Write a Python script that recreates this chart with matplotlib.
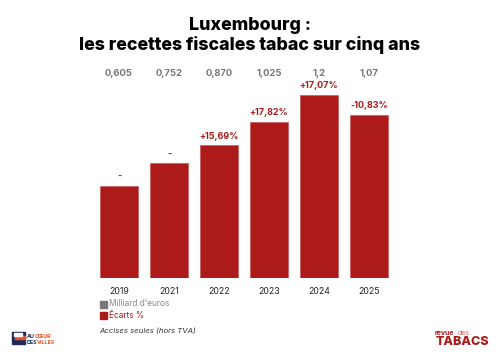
import matplotlib.pyplot as plt
import numpy as np

years = ['2019', '2021', '2022', '2023', '2024', '2025']
values = [0.605, 0.752, 0.870, 1.025, 1.2, 1.07]
value_labels = ['0,605', '0,752', '0,870', '1,025', '1,2', '1,07']
pct_labels = ['-', '-', '+15,69%', '+17,82%', '+17,07%', '-10,83%']

red = '#ac1a1a'
grey = '#7a7676'
navy = '#1e2a5a'
orange = '#e8542a'
font = 'Inter'

fig = plt.figure(figsize=(5, 3.57), dpi=100)
# axes placed so that bars start at y=278px and x positions match
ax = fig.add_axes([94 / 500, 79 / 357, 300 / 500, 213.5 / 357])
x = np.arange(len(years))
ax.bar(x, values, width=0.76, color=red, edgecolor='#c44a4a', linewidth=0.4)
ax.set_xlim(-0.5, 5.5)
ax.set_ylim(0, 1.4)
ax.axis('off')

for i in range(len(years)):
    ax.annotate(pct_labels[i], (x[i], values[i]), xytext=(0, 6.5),
                textcoords='offset points', ha='center', va='center',
                color=red, fontsize=6.5, fontweight='bold', family=font)
    ax.annotate(years[i], (x[i], 0), xytext=(0, -9.4),
                textcoords='offset points', ha='center', va='center',
                color='#222222', fontsize=6.3, family=font)
    ax.text(x[i], (278 - 73) / 152.5, value_labels[i], ha='center', va='center',
            color=grey, fontsize=6.8, fontweight='bold', family=font)

fig.text(0.5, 1 - 25 / 357, 'Luxembourg :', ha='center', va='center',
         fontsize=12.8, fontweight='heavy', family=font)
fig.text(0.5, 1 - 45 / 357, 'les recettes fiscales tabac sur cinq ans', ha='center',
         va='center', fontsize=12.8, fontweight='heavy', family=font)

# legend
fig.patches.append(plt.Rectangle((100 / 500, 1 - 307.5 / 357), 7 / 500, 7 / 357,
                                 transform=fig.transFigure, color=grey))
fig.patches.append(plt.Rectangle((100 / 500, 1 - 319 / 357), 7 / 500, 7 / 357,
                                 transform=fig.transFigure, color=red))
fig.text(109 / 500, 1 - 304 / 357, "Milliard d'euros", va='center', color='#8a8686',
         fontsize=6, family=font)
fig.text(109 / 500, 1 - 315.5 / 357, 'Écarts %', va='center', color=red,
         fontsize=6, family=font)
fig.text(99 / 500, 1 - 331 / 357, 'Accises seules (hors TVA)', va='center',
         color='#333333', fontsize=5.6, style='italic', family=font)

# logos as text
fig.patches.append(plt.Rectangle((12 / 500, 1 - 344 / 357), 13 / 500, 12 / 357,
                                 transform=fig.transFigure, color=navy))
fig.patches.append(plt.Rectangle((15 / 500, 1 - 339 / 357), 10 / 500, 3 / 357,
                                 transform=fig.transFigure, color=orange))
fig.patches.append(plt.Rectangle((14 / 500, 1 - 336 / 357), 8 / 500, 3 / 357,
                                 transform=fig.transFigure, color='white'))
fig.text(27 / 500, 1 - 337 / 357, 'AU', va='center', color=navy, fontsize=3.8,
         fontweight='bold', family=font)
fig.text(35 / 500, 1 - 337 / 357, 'CŒUR', va='center', color=orange, fontsize=3.8,
         fontweight='bold', family=font)
fig.text(27 / 500, 1 - 342.5 / 357, 'DES', va='center', color=navy, fontsize=3.8,
         fontweight='bold', family=font)
fig.text(37 / 500, 1 - 342.5 / 357, 'VILLES', va='center', color=orange, fontsize=3.8,
         fontweight='bold', family=font)
fig.text(435 / 500, 1 - 333 / 357, 'revue', va='center', color=red, fontsize=5,
         fontweight='bold', family=font)
fig.text(458 / 500, 1 - 333 / 357, 'des', va='center', color='#e06060', fontsize=5,
         family=font)
fig.text(436 / 500, 1 - 342 / 357, 'TABACS', va='center', color=red, fontsize=9,
         fontweight='heavy', family=font)

fig.savefig('out.png', dpi=100)
